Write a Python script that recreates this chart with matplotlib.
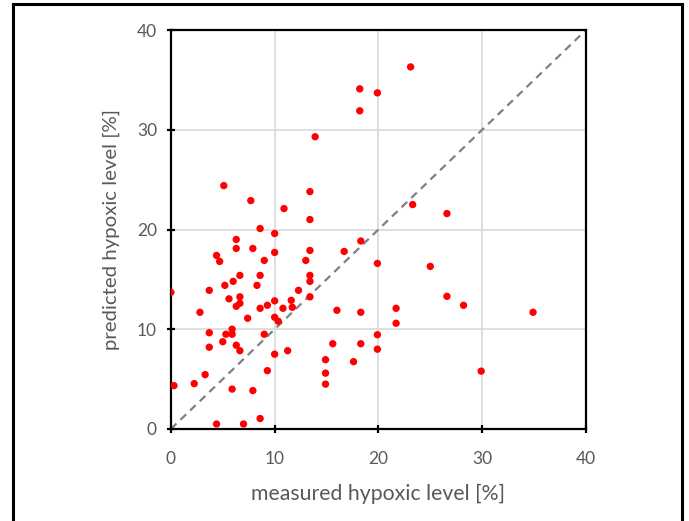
import numpy as np
import matplotlib
matplotlib.use("Agg")
import matplotlib.pyplot as plt
from matplotlib.patches import Rectangle

plt.rcParams['font.family'] = ['Lato', 'DejaVu Sans']

# measured vs predicted hypoxic level [%]
measured = [23.1, 18.2, 19.9, 18.2, 13.9, 5.1, 7.7, 13.4, 10.9, 13.4,
            23.3, 26.6, 8.6, 10.0, 6.3, 18.3, 6.3, 7.9, 13.4, 16.7,
            10.0, 4.4, 4.7, 9.0, 13.0, 19.9, 25.0, 6.65, 8.6, 13.4,
            6.0, 13.4, 5.2, 8.3, 12.3, 3.7, 0.0, 5.6, 6.65, 10.0,
            11.6, 13.4, 6.3, 6.65, 8.6, 9.3, 10.8, 11.7, 2.8, 7.4,
            10.0, 10.35, 3.7, 5.3, 5.9, 5.9, 9.0, 5.0, 3.7, 6.3,
            6.65, 10.0, 11.25, 9.3, 3.3, 2.25, 0.3, 5.9, 7.9, 8.6,
            4.4, 7.0, 26.6, 28.2, 34.9, 16.0, 18.3, 21.7, 21.7, 19.9,
            19.9, 15.6, 18.3, 14.9, 17.6, 14.9, 14.9, 29.9]
predicted = [36.3, 34.1, 33.7, 31.9, 29.3, 24.4, 22.9, 23.8, 22.1, 21.0,
             22.5, 21.6, 20.1, 19.6, 19.0, 18.85, 18.1, 18.1, 17.9, 17.8,
             17.7, 17.4, 16.8, 16.9, 16.9, 16.6, 16.3, 15.4, 15.4, 15.4,
             14.8, 14.8, 14.4, 14.4, 13.9, 13.9, 13.7, 13.05, 13.25, 12.85,
             12.9, 13.25, 12.3, 12.6, 12.1, 12.4, 12.1, 12.2, 11.7, 11.1,
             11.2, 10.8, 9.65, 9.5, 10.0, 9.5, 9.5, 8.75, 8.2, 8.4,
             7.85, 7.5, 7.85, 5.85, 5.45, 4.55, 4.35, 4.0, 3.85, 1.05,
             0.5, 0.5, 13.3, 12.4, 11.7, 11.9, 11.7, 12.1, 10.6, 9.45,
             8.0, 8.55, 8.55, 6.95, 6.75, 5.6, 4.5, 5.8]
ticks = [0, 10, 20, 30, 40]

fig = plt.figure(figsize=(6.89, 5.21), dpi=100)
ax = fig.add_axes([0.248, 0.1766, 0.6025, 0.7658])

ax.plot([0, 40], [0, 40], color='#808080', lw=1.6, ls=(0, (3.5, 2.5)), zorder=2)
ax.scatter(measured, predicted, s=28, color='#ff0000', edgecolors='none', zorder=3)

ax.set_xlim(0, 40)
ax.set_ylim(0, 40)
ax.set_xticks(ticks)
ax.set_yticks(ticks)
ax.grid(True, color='#d9d9d9', lw=1.2)
ax.set_axisbelow(True)
for sp in ax.spines.values():
    sp.set_color('black')
    sp.set_linewidth(1.6)
ax.tick_params(direction='inout', length=6, width=1.6, colors='black',
               labelcolor='#595959', labelsize=12.5)
ax.tick_params(axis='x', pad=13)
ax.tick_params(axis='y', pad=7)

ax.set_xlabel('measured hypoxic level [%]', fontsize=15.3, color='#595959', labelpad=12)
ax.set_ylabel('predicted hypoxic level [%]', fontsize=14.7, color='#595959', labelpad=12)

# outer frame of the original figure
fig.add_artist(Rectangle((0.019, -0.05), 0.971, 1.042, transform=fig.transFigure,
                         fill=False, ec='black', lw=2.2))

fig.savefig('out.png', dpi=100)
